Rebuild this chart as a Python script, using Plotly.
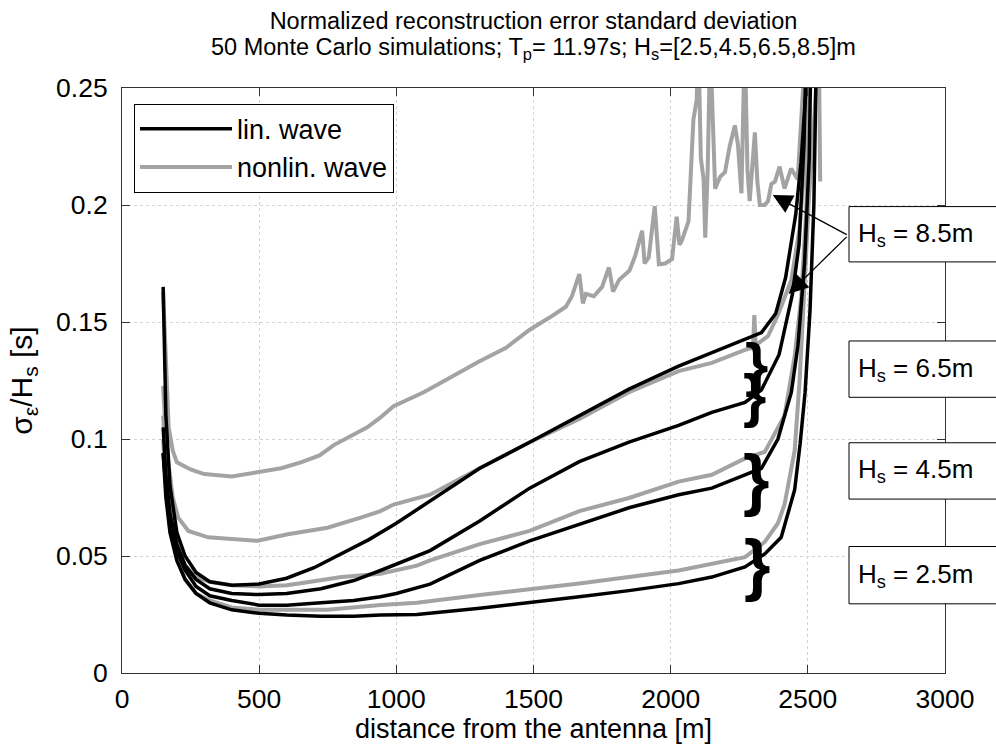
import plotly.graph_objects as go

# ---------------- data ----------------
x_lin85 = [150, 160, 175, 200, 230, 270, 320, 400, 500, 600, 700, 800, 900, 1000, 1123, 1304, 1486, 1667, 1848, 2029, 2150, 2271, 2331, 2383, 2419, 2456, 2475, 2493, 2500]
y_lin85 = [0.165, 0.11, 0.08, 0.06, 0.05, 0.043, 0.039, 0.0375, 0.038, 0.0405, 0.045, 0.051, 0.057, 0.064, 0.0734, 0.0875, 0.0986, 0.110, 0.1213, 0.1311, 0.1368, 0.1424, 0.1455, 0.1536, 0.169, 0.196, 0.218, 0.249, 0.27]

x_lin65 = [150, 160, 175, 200, 230, 270, 320, 400, 500, 600, 725, 845, 942, 1075, 1123, 1304, 1486, 1667, 1848, 2029, 2150, 2271, 2331, 2395, 2444, 2468, 2486, 2495]
y_lin65 = [0.105, 0.085, 0.068, 0.055, 0.046, 0.04, 0.036, 0.034, 0.0335, 0.034, 0.036, 0.0395, 0.0438, 0.05, 0.0523, 0.065, 0.079, 0.0903, 0.0987, 0.1058, 0.1114, 0.1156, 0.121, 0.136, 0.162, 0.183, 0.226, 0.27]

x_lin45 = [150, 160, 175, 200, 230, 270, 320, 400, 500, 600, 725, 845, 942, 1000, 1123, 1304, 1486, 1667, 1848, 2029, 2150, 2271, 2331, 2391, 2440, 2464, 2488, 2505, 2512]
y_lin45 = [0.094, 0.08, 0.064, 0.052, 0.044, 0.037, 0.033, 0.031, 0.029, 0.0289, 0.030, 0.031, 0.0326, 0.034, 0.038, 0.0481, 0.0565, 0.0635, 0.0706, 0.0762, 0.079, 0.0847, 0.0875, 0.1, 0.12, 0.14, 0.175, 0.22, 0.27]

x_lin25 = [150, 160, 175, 200, 230, 270, 320, 400, 500, 600, 725, 845, 942, 1075, 1304, 1486, 1667, 1848, 2029, 2150, 2271, 2343, 2403, 2452, 2472, 2490, 2508, 2522, 2532]
y_lin25 = [0.094, 0.075, 0.06, 0.048, 0.04, 0.034, 0.03, 0.027, 0.0255, 0.0248, 0.0243, 0.0243, 0.0248, 0.025, 0.0277, 0.030, 0.0326, 0.0352, 0.0382, 0.041, 0.0453, 0.0509, 0.058, 0.0783, 0.098, 0.12, 0.155, 0.2, 0.27]

x_nl85 = [150, 160, 170, 185, 200, 250, 300, 400, 495, 580, 652, 720, 772, 830, 894, 940, 990, 1100, 1207, 1300, 1400, 1486, 1560, 1618, 1640, 1667, 1680, 1691, 1720, 1750, 1775, 1790, 1812, 1850, 1870, 1896, 1905, 1920, 1942, 1957, 1980, 2005, 2022, 2032, 2040, 2065, 2083, 2095, 2101, 2110, 2120, 2126, 2135, 2144, 2162, 2180, 2198, 2215, 2234, 2245, 2258, 2270, 2280, 2288, 2307, 2316, 2325, 2343, 2355, 2367, 2380, 2397, 2415, 2439, 2463, 2475, 2493, 2540, 2545]
y_nl85 = [0.163, 0.13, 0.105, 0.095, 0.09, 0.087, 0.085, 0.084, 0.086, 0.0875, 0.090, 0.093, 0.0974, 0.101, 0.105, 0.109, 0.114, 0.12, 0.127, 0.133, 0.139, 0.1467, 0.152, 0.1565, 0.161, 0.1705, 0.158, 0.162, 0.161, 0.165, 0.1733, 0.163, 0.168, 0.172, 0.178, 0.189, 0.175, 0.1776, 0.1995, 0.1747, 0.175, 0.1769, 0.195, 0.183, 0.1846, 0.193, 0.2367, 0.245, 0.27, 0.22, 0.211, 0.186, 0.215, 0.27, 0.207, 0.212, 0.214, 0.225, 0.234, 0.226, 0.205, 0.27, 0.215, 0.2017, 0.231, 0.21, 0.2, 0.2, 0.2017, 0.209, 0.21, 0.2164, 0.207, 0.2156, 0.211, 0.232, 0.27, 0.27, 0.21]

x_nl65 = [150, 160, 169, 185, 205, 242, 314, 411, 495, 604, 749, 870, 942, 990, 1123, 1304, 1486, 1667, 1848, 2029, 2150, 2271, 2300, 2305, 2310, 2355, 2391, 2440, 2470, 2490, 2505]
y_nl65 = [0.1227, 0.1, 0.09, 0.075, 0.0664, 0.0607, 0.058, 0.0572, 0.0565, 0.0593, 0.0621, 0.0664, 0.0692, 0.072, 0.0762, 0.0875, 0.0986, 0.1086, 0.12, 0.129, 0.1325, 0.1381, 0.139, 0.153, 0.14, 0.144, 0.153, 0.168, 0.19, 0.22, 0.27]

x_nl45 = [150, 160, 175, 200, 230, 270, 320, 400, 500, 600, 664, 800, 942, 1075, 1123, 1304, 1486, 1667, 1848, 2029, 2150, 2271, 2343, 2415, 2452, 2476, 2495, 2510]
y_nl45 = [0.11, 0.09, 0.07, 0.055, 0.046, 0.041, 0.039, 0.0375, 0.037, 0.0375, 0.0386, 0.041, 0.0424, 0.0459, 0.0481, 0.0551, 0.0607, 0.0692, 0.0748, 0.0818, 0.0847, 0.0917, 0.0945, 0.11, 0.1353, 0.1607, 0.2, 0.27]

x_nl25 = [150, 160, 175, 200, 230, 270, 320, 400, 500, 600, 750, 942, 1075, 1304, 1667, 2029, 2271, 2343, 2391, 2415, 2452, 2470, 2488, 2505, 2525, 2540]
y_nl25 = [0.10, 0.08, 0.062, 0.049, 0.04, 0.034, 0.031, 0.028, 0.027, 0.027, 0.027, 0.0291, 0.030, 0.0333, 0.0382, 0.0438, 0.0495, 0.056, 0.064, 0.072, 0.095, 0.125, 0.1677, 0.205, 0.24, 0.27]

x_ticks = [0, 500, 1000, 1500, 2000, 2500, 3000]
y_ticks = [0, 0.05, 0.1, 0.15, 0.2, 0.25]
y_ticktext = ["0", "0.05", "0.1", "0.15", "0.2", "0.25"]

box_labels = ["8.5", "6.5", "4.5", "2.5"]

BLACK = "#000000"
GRAY = "#a3a3a3"
FONT = "Liberation Sans, Arial, sans-serif"

fig = go.Figure()

gray_series = [(x_nl85, y_nl85), (x_nl65, y_nl65), (x_nl45, y_nl45), (x_nl25, y_nl25)]
black_series = [(x_lin85, y_lin85), (x_lin65, y_lin65), (x_lin45, y_lin45), (x_lin25, y_lin25)]

for i, (xs, ys) in enumerate(gray_series):
    fig.add_trace(go.Scatter(x=xs, y=ys, mode="lines", line=dict(color=GRAY, width=4),
                             name="nonlin. wave", legendgroup="nl", showlegend=(i == 0),
                             legendrank=2))
for i, (xs, ys) in enumerate(black_series):
    fig.add_trace(go.Scatter(x=xs, y=ys, mode="lines", line=dict(color=BLACK, width=3.5),
                             name="lin. wave", legendgroup="lin", showlegend=(i == 0),
                             legendrank=1))

# plot area pixel geometry
L, R, T, B = 122, 945, 88, 680
W, H = 996, 751
pw, ph = R - L, B - T

def px2paper(px, py):
    return (px - L) / pw, (B - py) / ph

# label boxes
box_y = [(208, 264), (344, 401), (447, 504), (552, 610)]
shapes = []
annotations = []
for lab, (yt, yb) in zip(box_labels, box_y):
    x0, y0 = px2paper(849, yb)
    x1, y1 = px2paper(1010, yt)
    shapes.append(dict(type="rect", xref="paper", yref="paper", x0=x0, x1=x1, y0=y0, y1=y1,
                       line=dict(color="black", width=1), fillcolor="white", layer="above"))
    tx, ty = px2paper(856, (yt + yb) / 2)
    annotations.append(dict(xref="paper", yref="paper", x=tx, y=ty, xanchor="left", yanchor="middle",
                            text="H<sub>s</sub> = " + lab + "m", showarrow=False,
                            font=dict(size=26, color="black", family=FONT)))

# braces
for (bx, by, fs) in [(2313, 0.1318, 60), (2305, 0.1185, 60), (2311, 0.083, 68), (2313, 0.0467, 68)]:
    annotations.append(dict(x=bx, y=by, xref="x", yref="y", text="<b>}</b>", showarrow=False,
                            xanchor="center", yanchor="middle",
                            font=dict(size=fs, color="black", family=FONT)))

# arrows from the 8.5m box
for (hx, hy) in [(2372, 0.2043), (2430, 0.162)]:
    annotations.append(dict(x=hx, y=hy, xref="x", yref="y", ax=2647, ay=0.187, axref="x", ayref="y",
                            text="", showarrow=True, arrowhead=2, arrowsize=3.0, arrowwidth=1.3,
                            arrowcolor="black", standoff=0, startstandoff=0))

# second title line as its own text (tighter line spacing like the reference)
annotations.append(dict(xref="paper", yref="paper", x=0.5, y=(B - 48) / ph, xanchor="center", yanchor="middle",
                        text="50 Monte Carlo simulations; T<sub>p</sub>= 11.97s; H<sub>s</sub>=[2.5,4.5,6.5,8.5]m",
                        showarrow=False, font=dict(size=23.5, family=FONT, color="black")))

fig.update_layout(
    width=W, height=H,
    margin=dict(l=L, r=W - R, t=T, b=H - B),
    paper_bgcolor="white", plot_bgcolor="white",
    font=dict(family=FONT, size=26, color="black"),
    title=dict(text="Normalized reconstruction error standard deviation",
               x=(L + R) / 2 / W, xanchor="center", yref="container", y=1 - 21 / H, yanchor="middle",
               font=dict(size=23.5, family=FONT)),
    showlegend=True,
    legend=dict(x=0.0146, y=0.973, xanchor="left", yanchor="top", bgcolor="white",
                bordercolor="black", borderwidth=1, font=dict(size=27, family=FONT),
                itemwidth=92, tracegroupgap=0),
    shapes=shapes,
    annotations=annotations,
)

fig.update_xaxes(range=[0, 3000], tickvals=x_ticks, ticks="inside", ticklen=8, tickcolor="#333",
                 showline=True, linecolor="#333", linewidth=1, mirror="ticks",
                 showgrid=True, gridcolor="#d4d4d4", griddash="dot", gridwidth=1, zeroline=False,
                 tickfont=dict(size=26.5), ticklabelstandoff=2,
                 title=dict(text="distance from the antenna [m]", font=dict(size=27), standoff=6))
fig.update_yaxes(range=[0, 0.25], tickvals=y_ticks, ticktext=y_ticktext, ticks="inside", ticklen=8,
                 tickcolor="#333", showline=True, linecolor="#333", linewidth=1, mirror="ticks",
                 showgrid=True, gridcolor="#d4d4d4", griddash="dot", gridwidth=1, zeroline=False,
                 tickfont=dict(size=26.5), ticklabelstandoff=8,
                 title=dict(text="σ<sub>ε</sub>/H<sub>s</sub> [s]", font=dict(size=30), standoff=14))

fig.write_html("out.html")
